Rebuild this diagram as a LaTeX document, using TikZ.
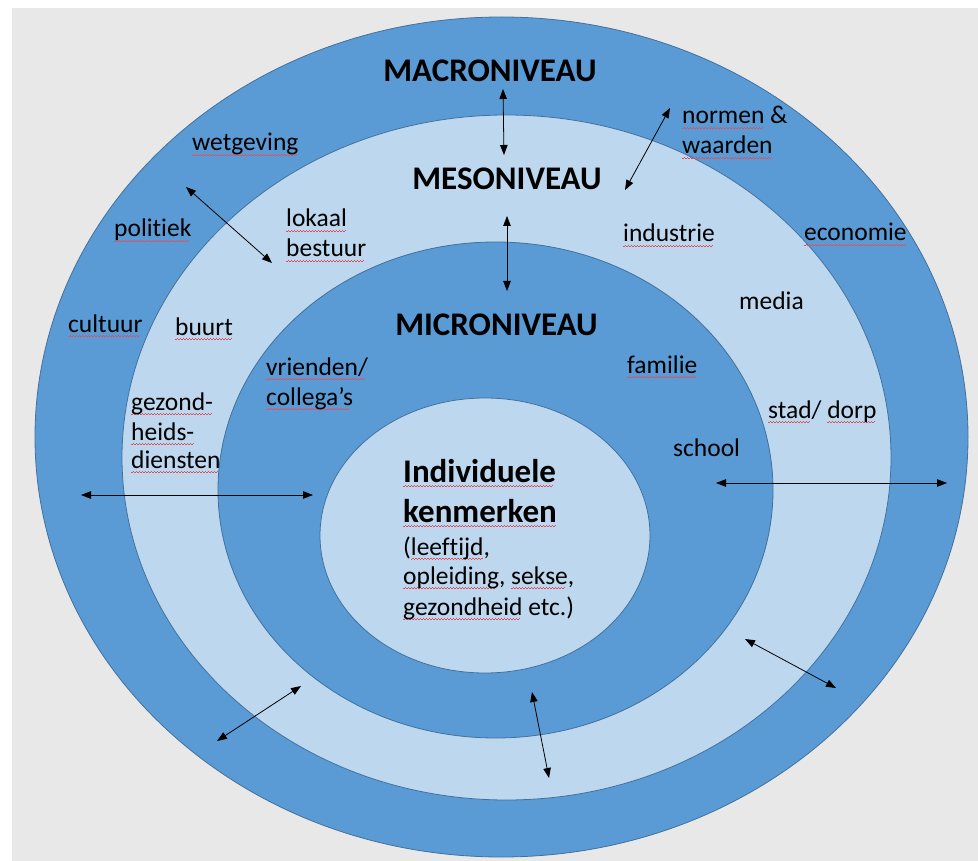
\documentclass[tikz,border=0pt]{standalone}
\usepackage{fontspec}
\setmainfont[Ligatures=NoCommon]{Carlito}
\usepackage{tikz}
\usetikzlibrary{arrows.meta}

\definecolor{ringdark}{HTML}{5B9BD5}
\definecolor{ringlight}{HTML}{BDD7EE}
\definecolor{ringedge}{HTML}{41719C}
\definecolor{bggray}{HTML}{E8E8E8}
\definecolor{squiggle}{HTML}{E0505A}

\newsavebox\sqbox
\newcommand\sq[1]{\sbox\sqbox{#1}\rlap{\color{squiggle}\raisebox{-4.5pt}{\leaders\hbox to 3pt{\rule{1.5pt}{0.7pt}\rule[0.7pt]{1.5pt}{0.7pt}}\hskip\wd\sqbox}}\usebox\sqbox}

\tikzset{
  ring/.style={draw=ringedge, line width=0.8pt},
  lbl/.style={anchor=base west, inner sep=0pt, font=\fontsize{25.5}{30}\selectfont},
  level/.style={anchor=base, inner sep=0pt, font=\fontsize{33}{40}\selectfont\bfseries},
  link/.style={{Triangle[length=10pt,width=7.5pt]}-{Triangle[length=10pt,width=7.5pt]}, line width=0.8pt},
}

\begin{document}
\begin{tikzpicture}[x=1pt,y=-1pt]
  \useasboundingbox (0,0) rectangle (978,861);
  \fill[white] (0,0) rectangle (978,861);
  \fill[bggray] (12,8) rectangle (978,861);

  \fill[ringdark, ring] (501.5,437) ellipse [x radius=466.5pt, y radius=420pt];
  \fill[ringlight, ring] (506.5,457.5) ellipse [x radius=384.5pt, y radius=342.5pt];
  \fill[ringdark, ring] (495.5,490) ellipse [x radius=277.5pt, y radius=248pt];
  \fill[ringlight, ring] (485,535.5) ellipse [x radius=165pt, y radius=137.5pt];

  % macro
  \node[level] (macro) at (490,82) {MACRONIVEAU};
  \node[lbl] (wet) at (192,151) {\sq{wetgeving}};
  \node[lbl] (pol) at (114,237) {\sq{politiek}};
  \node[lbl] (cul) at (68,332) {\sq{cultuur}};
  \node[lbl] (nor1) at (682,124) {\sq{normen} \&};
  \node[lbl] (nor2) at (682,154) {\sq{waarden}};
  \node[lbl] (eco) at (804,241) {\sq{economie}};

  % meso
  \node[level] (meso) at (507,190) {MESONIVEAU};
  \node[lbl] (lok1) at (286,227) {\sq{lokaal}};
  \node[lbl] (lok2) at (286,257) {\sq{bestuur}};
  \node[lbl] (buu) at (175,335) {\sq{buurt}};
  \node[lbl] (gez1) at (131,410) {\sq{gezond-}};
  \node[lbl] (gez2) at (131,440) {\sq{heids-}};
  \node[lbl] (gez3) at (131,468) {\sq{diensten}};
  \node[lbl] (ind) at (623,242) {\sq{industrie}};
  \node[lbl] (med) at (739,309) {media};
  \node[lbl] (sta) at (768,418) {\sq{stad}/ \sq{dorp}};

  % micro
  \node[level] (micro) at (496.5,336) {MICRONIVEAU};
  \node[lbl] (vri1) at (266,375) {\sq{vrienden/}};
  \node[lbl] (vri2) at (266,405) {\sq{collega’s}};
  \node[lbl] (fam) at (627,373) {\sq{familie}};
  \node[lbl] (sch) at (673,456) {school};

  % individu
  \node[lbl, font=\fontsize{33}{40}\selectfont\bfseries] (indiv1) at (403,482) {\sq{Individuele}};
  \node[lbl, font=\fontsize{33}{40}\selectfont\bfseries] (indiv2) at (403,522) {\sq{kenmerken}};
  \node[lbl] (kenm1) at (403,555) {(\sq{leeftijd},};
  \node[lbl] (kenm2) at (403,584) {\sq{opleiding}, \sq{sekse},};
  \node[lbl] (kenm3) at (403,615) {\sq{gezondheid} etc.)};

  \coordinate (a1) at (503,89);  \coordinate (b1) at (504,155);
  \coordinate (a2) at (507,216); \coordinate (b2) at (507,291);
  \coordinate (a3) at (670,108); \coordinate (b3) at (625,190);
  \coordinate (a4) at (186,187); \coordinate (b4) at (272,263);
  \coordinate (a5) at (81,495);  \coordinate (b5) at (313,495);
  \coordinate (a6) at (716,483); \coordinate (b6) at (947,483);
  \coordinate (a7) at (217,741); \coordinate (b7) at (301,686);
  \coordinate (a8) at (532,692); \coordinate (b8) at (549,778);
  \coordinate (a9) at (745,639); \coordinate (b9) at (836,688);
  \foreach \i in {1,...,9} {
    \draw[link] (a\i) -- (b\i);
  }
\end{tikzpicture}
\end{document}
